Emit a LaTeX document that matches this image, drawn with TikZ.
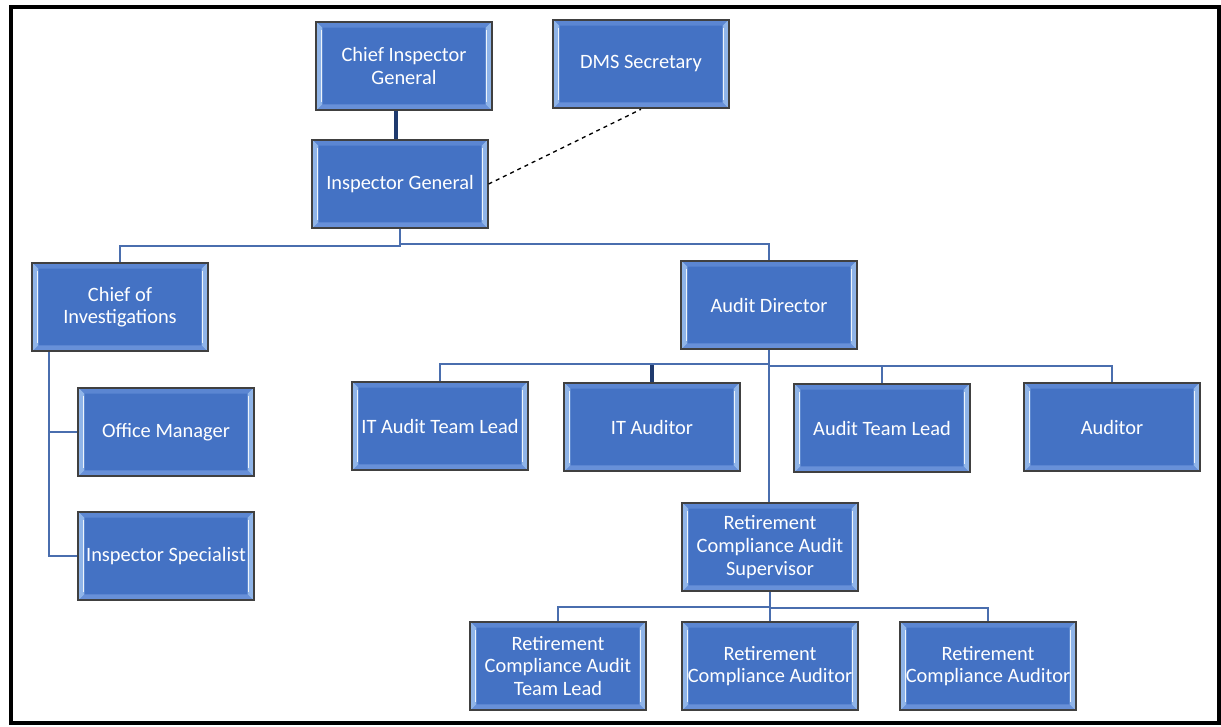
\documentclass[tikz,border=0pt]{standalone}
\usepackage{fontspec}
\setmainfont{Carlito}
\usepackage{tikz}
\usetikzlibrary{calc}

\definecolor{boxblue}{HTML}{4472C4}
\definecolor{boxtop}{HTML}{5B86D2}
\definecolor{boxbot}{HTML}{6890D8}
\definecolor{boxside}{HTML}{8FB4E8}
\definecolor{linkblue}{HTML}{4A6EAE}
\definecolor{linknavy}{HTML}{1F3A6E}

\tikzset{
    orgbox/.style={rectangle, draw=black!75, line width=1.4pt, fill=boxblue,
        text=white, minimum width=131.5pt, minimum height=66.5pt, inner xsep=0pt,
        align=center, font=\fontsize{15.3}{17}\selectfont,
        path picture={
            \coordinate (bnw) at (path picture bounding box.north west);
            \coordinate (bne) at (path picture bounding box.north east);
            \coordinate (bsw) at (path picture bounding box.south west);
            \coordinate (bse) at (path picture bounding box.south east);
            \fill[boxtop] (bnw) -- (bne) -- ([shift={(-4.5pt,-4.5pt)}]bne) -- ([shift={(4.5pt,-4.5pt)}]bnw) -- cycle;
            \fill[boxbot] (bsw) -- (bse) -- ([shift={(-4.5pt,4.5pt)}]bse) -- ([shift={(4.5pt,4.5pt)}]bsw) -- cycle;
            \fill[boxside] (bnw) -- ([shift={(4.5pt,-4.5pt)}]bnw) -- ([shift={(4.5pt,4.5pt)}]bsw) -- (bsw) -- cycle;
            \fill[boxside] (bne) -- ([shift={(-4.5pt,-4.5pt)}]bne) -- ([shift={(-4.5pt,4.5pt)}]bse) -- (bse) -- cycle;
            \draw[white!85!boxside, line width=0.8pt] ([shift={(4.2pt,-6pt)}]bnw) -- ([shift={(4.2pt,6pt)}]bsw);
            \draw[white!85!boxside, line width=0.8pt] ([shift={(-4.2pt,-6pt)}]bne) -- ([shift={(-4.2pt,6pt)}]bse);
        }},
    link/.style={draw=linkblue, line width=1.5pt},
    navylink/.style={draw=linknavy, line width=2.3pt},
}

\begin{document}
\begin{tikzpicture}[x=0.75pt, y=-0.75pt]
    \useasboundingbox (0,0) rectangle (1221,726);

    % outer frame
    \draw[line width=3.5pt] (11,7) rectangle (1219,723);

    % top of the office
    \node[orgbox] (cig) at (404,66) {Chief Inspector\\General};
    \node[orgbox] (dms) at (641,64) {DMS Secretary};
    \node[orgbox] (ig) at (400,184) {Inspector General};

    % investigations
    \node[orgbox] (coi) at (120,307) {Chief of\\Investigations};
    \node[orgbox] (om) at (166,432) {Office Manager};
    \node[orgbox] (is) at (166,556) {Inspector Specialist};

    % audit
    \node[orgbox] (ad) at (769,305) {Audit Director};
    \node[orgbox] (itl) at (440,426) {IT Audit Team Lead};
    \node[orgbox] (ita) at (652,427) {IT Auditor};
    \node[orgbox] (atl) at (882,428) {Audit Team Lead};
    \node[orgbox] (aud) at (1112,427) {Auditor};

    % retirement compliance
    \node[orgbox] (rcs) at (770,547) {Retirement\\Compliance Audit\\Supervisor};
    \node[orgbox] (rtl) at (558,666) {Retirement\\Compliance Audit\\Team Lead};
    \node[orgbox] (rca1) at (770,666) {Retirement\\Compliance Auditor};
    \node[orgbox] (rca2) at (988,666) {Retirement\\Compliance Auditor};

    % connectors
    \draw[navylink] ([xshift=-3pt]ig.north) -- ([xshift=-3pt]ig.north |- cig.south);
    \draw[dashed, line width=1pt] (ig.east) -- (dms.south);

    \draw[link] (ig.south) -- ++(0,17) -| (coi.north);
    \draw[link] (ig.south) -- ++(0,15) -| (ad.north);

    \draw[link] ([xshift=13.5pt]coi.south west) |- (om.west);
    \draw[link] ([xshift=13.5pt]coi.south west) |- (is.west);

    \draw[link] (ad.south) -- ++(0,14) -| (itl.north);
    \draw[link] (ad.south) -- ++(0,14) -| (ita.north);
    \draw[link] (ad.south) -- ++(0,16) -| (atl.north);
    \draw[link] (ad.south) -- ++(0,16) -| (aud.north);
    \draw[link] (ad.south) -- (ad.south |- rcs.north);
    \draw[navylink] (ita.north) -- ++(0,-17);

    \draw[link] (rcs.south) -- ++(0,15) -| (rtl.north);
    \draw[link] (rcs.south) -- (rca1.north);
    \draw[link] (rcs.south) -- ++(0,16) -| (rca2.north);
\end{tikzpicture}
\end{document}
